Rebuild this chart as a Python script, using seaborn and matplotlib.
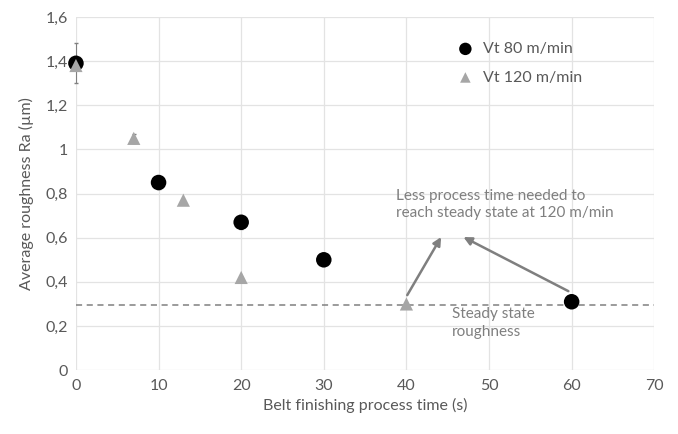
import matplotlib
matplotlib.use("Agg")
import matplotlib.pyplot as plt
import seaborn as sns
import pandas as pd

# Data
t80 = [0, 10, 20, 30, 60]
ra80 = [1.39, 0.85, 0.67, 0.50, 0.31]
err80 = [0.09, 0.03, 0.03, 0.0, 0.0]
t120 = [0, 7, 13, 20, 40]
ra120 = [1.38, 1.05, 0.77, 0.42, 0.30]
err120 = [0.0, 0.02, 0.0, 0.0, 0.0]
steady = 0.295
x_ticks = [0, 10, 20, 30, 40, 50, 60, 70]
y_ticks = [0, 0.2, 0.4, 0.6, 0.8, 1.0, 1.2, 1.4, 1.6]
y_labels = ["0", "0,2", "0,4", "0,6", "0,8", "1", "1,2", "1,4", "1,6"]

sns.set_theme(style="white")
plt.rcParams['font.family'] = ['Lato', 'DejaVu Sans']
txt = "#595959"

fig = plt.figure(figsize=(6.78, 4.34), dpi=100)
ax = fig.add_axes([0.112, 0.147, 0.853, 0.814])

df80 = pd.DataFrame({"t": t80, "ra": ra80})
df120 = pd.DataFrame({"t": t120, "ra": ra120})

ax.axhline(steady, color="#808080", ls=(0, (4, 3)), lw=1.1, zorder=1)

ax.errorbar(t80, ra80, yerr=err80, fmt="none", ecolor="#808080", elinewidth=0.8, capsize=1.5,
            zorder=2, clip_on=False)
ax.errorbar(t120, ra120, yerr=err120, fmt="none", ecolor="#808080", elinewidth=0.8, capsize=1.5,
            zorder=2, clip_on=False)
sns.scatterplot(data=df80, x="t", y="ra", ax=ax, color="black", marker="o", s=125,
                edgecolor="none", label="Vt 80 m/min", zorder=3, clip_on=False)
sns.scatterplot(data=df120, x="t", y="ra", ax=ax, color="#a6a6a6", marker="^", s=90,
                edgecolor="none", label="Vt 120 m/min", zorder=4, clip_on=False)

ax.set_xlim(0, 70)
ax.set_ylim(0, 1.6)
ax.set_xticks(x_ticks)
ax.set_yticks(y_ticks)
ax.set_yticklabels(y_labels)
ax.grid(True, color="#e3e3e3", lw=0.9)
ax.set_axisbelow(True)
for s in ax.spines.values():
    s.set_visible(False)
ax.tick_params(axis="both", colors=txt, labelsize=11.5, length=0, pad=6)
ax.set_xlabel("Belt finishing process time (s)", color=txt, fontsize=11.5)
ax.set_ylabel("Average roughness Ra (µm)", color=txt, fontsize=11.5, labelpad=8)

leg = ax.legend(loc="upper right", bbox_to_anchor=(0.9, 0.97), frameon=False, fontsize=11.5,
                handletextpad=0.1, markerscale=0.8, labelspacing=0.9)
for t in leg.get_texts():
    t.set_color(txt)

ax.text(38.8, 0.82, "Less process time needed to\nreach steady state at 120 m/min",
        color="#7f7f7f", fontsize=11, va="top", ha="left", linespacing=1.3)
ax.text(45.5, 0.285, "Steady state\nroughness", color="#7f7f7f", fontsize=11,
        va="top", ha="left", linespacing=1.3)

arrow = dict(arrowstyle="-|>", color="#7f7f7f", lw=1.8, mutation_scale=12, shrinkA=0, shrinkB=0)
ax.annotate("", xy=(44.2, 0.603), xytext=(40.1, 0.34), arrowprops=arrow)
ax.annotate("", xy=(46.9, 0.603), xytext=(59.6, 0.358), arrowprops=arrow)

fig.savefig("out.png", dpi=100)
